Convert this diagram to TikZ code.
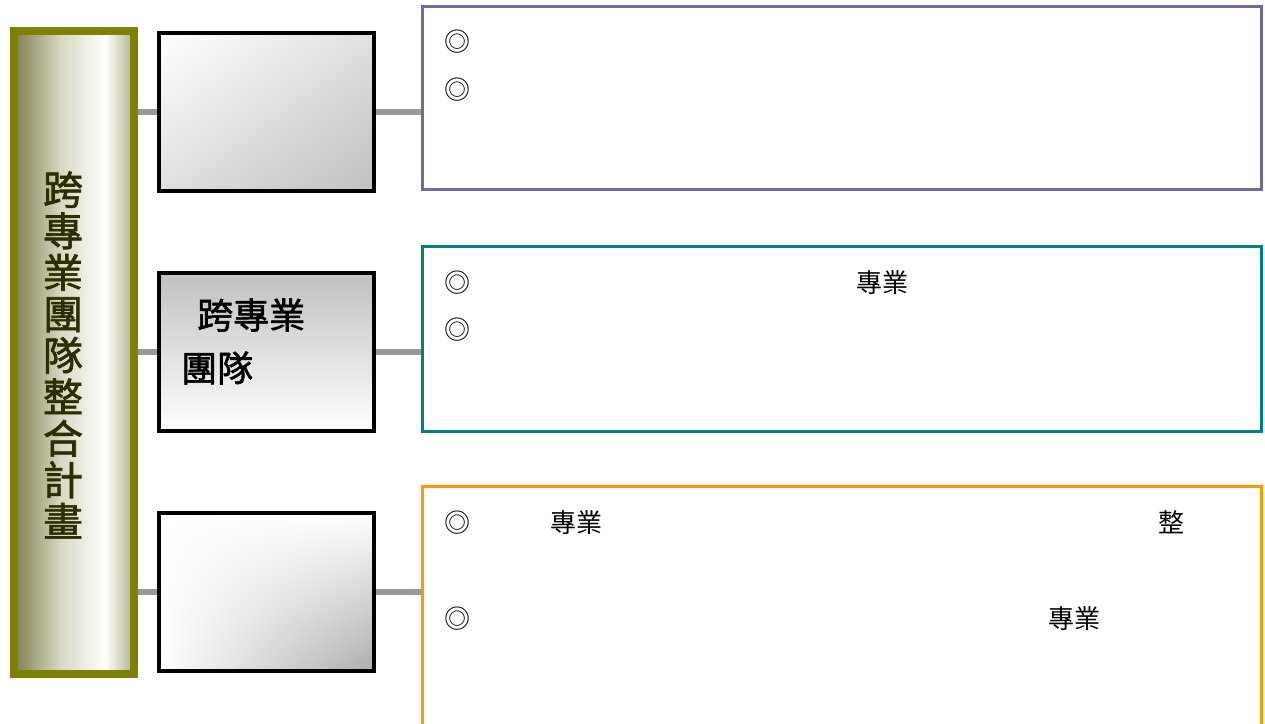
\documentclass[tikz,border=0pt]{standalone}
\usepackage{fontspec}
\usetikzlibrary{shadings}
\newfontfamily\cjk{Noto Sans CJK TC}
\newfontfamily\cjkm[FakeBold=1.6]{Noto Sans CJK TC}
\definecolor{olv}{RGB}{128,128,0}
\definecolor{olL}{RGB}{128,128,82}
\definecolor{olM}{RGB}{215,215,195}
\definecolor{olR}{RGB}{175,175,140}
\definecolor{txtol}{RGB}{45,45,0}
\definecolor{pur}{RGB}{107,107,160}
\definecolor{tea}{RGB}{0,128,128}
\definecolor{org}{RGB}{255,153,0}
\definecolor{cg}{RGB}{153,153,153}
\definecolor{bgr}{RGB}{192,192,192}
\definecolor{mgr}{RGB}{224,224,224}
\tikzset{
  tallbox/.style={draw=olv, line width=8pt, minimum width=120pt, minimum height=643pt, inner sep=0pt},
  midbox/.style={draw=black, line width=4pt, minimum width=215pt, minimum height=158pt, inner sep=0pt},
  rbox/.style={draw=#1, line width=3pt, fill=white, minimum width=839pt, inner sep=0pt},
  conn/.style={draw=cg, line width=6pt},
  bodytxt/.style={font=\fontsize{26}{30}\selectfont\cjk, inner sep=0pt, text=black},
  boxtxt/.style={font=\fontsize{36}{40}\selectfont\cjkm, inner sep=0pt, text=black, anchor=west},
}
\begin{document}
\begin{tikzpicture}[x=1pt, y=-1pt]
\useasboundingbox (0,0) rectangle (1265,723);
\clip (0,0) rectangle (1265,723);
\fill[white] (0,0) rectangle (1265,723);
% tall box
\shade[left color=olL, right color=olM] (14,31) rectangle (60.5,674);
\shade[left color=olM, right color=white] (60,31) rectangle (105.5,674);
\shade[left color=white, right color=olR] (105,31) rectangle (134,674);
\node[tallbox] (L) at (74,352.5) {};
\node[font=\fontsize{40}{41.5}\selectfont\cjkm, text=txtol, align=center, inner sep=0pt] (Lt) at (63,355) {跨\\專\\業\\團\\隊\\整\\合\\計\\畫};
% middle boxes
\node[midbox, upper left=white, upper right=mgr, lower left=mgr, lower right=bgr] (M1) at (266.5,112) {};
\node[midbox, top color=bgr, bottom color=white] (M2) at (266.5,352) {};
\node[midbox, upper left=white, upper right=white, lower left=white, lower right=bgr!90!black] (M3) at (266.5,591.5) {};
\node[boxtxt] (m2a) at (197,315) {跨專業};
\node[boxtxt] (m2b) at (181,368) {團隊};
% right boxes
\node[rbox=pur, minimum height=183pt] (R1) at (842,98) {};
\node[rbox=tea, minimum height=185pt] (R2) at (842,339) {};
\node[rbox=org, minimum height=280pt] (R3) at (842,626.5) {};
% connectors
\draw[conn] (L.east |- M1.west) -- (M1.west);
\draw[conn] (L.east |- M2.west) -- (M2.west);
\draw[conn] (L.east |- M3.west) -- (M3.west);
\draw[conn] (M1.east) -- (M1.east -| R1.west);
\draw[conn] (M2.east) -- (M2.east -| R2.west);
\draw[conn] (M3.east) -- (M3.east -| R3.west);
% texts
\node[bodytxt] (a1) at (457,42) {◎};
\node[bodytxt] (a2) at (457,90) {◎};
\node[bodytxt] (b1) at (457,283) {◎};
\node[bodytxt] (b2) at (457,330) {◎};
\node[bodytxt] (b3) at (882,283) {專業};
\node[bodytxt] (c1) at (457,523) {◎};
\node[bodytxt] (c2) at (457,619) {◎};
\node[bodytxt] (c3) at (576,523) {專業};
\node[bodytxt] (c4) at (1171,522) {整};
\node[bodytxt] (c5) at (1074,619) {專業};
\end{tikzpicture}
\end{document}
